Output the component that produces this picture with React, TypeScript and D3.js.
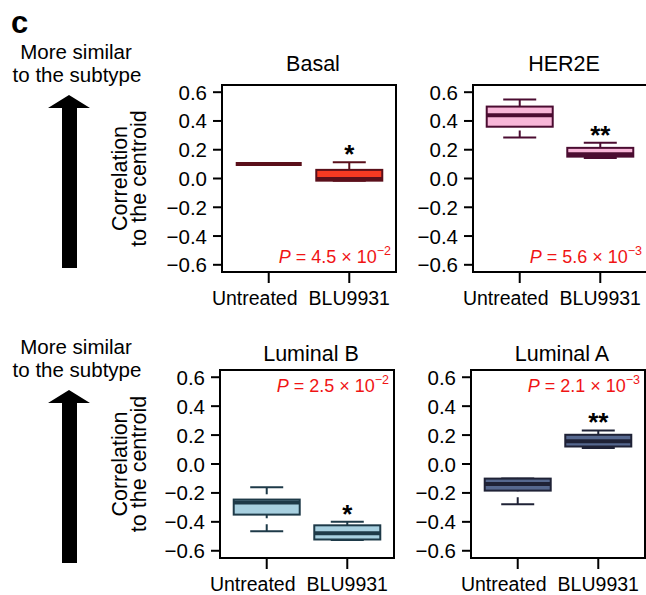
import React from "react";
import * as d3 from "d3";

// one entry per panel
const panelNames = ["Basal", "HER2E", "Luminal B", "Luminal A"];
const groupNames = ["Untreated", "BLU9931"];
// [min, q1, median, q3, max]
const untreatedStats = [
  [0.1, 0.1, 0.1, 0.1, 0.1],
  [0.285, 0.36, 0.44, 0.5, 0.55],
  [-0.465, -0.35, -0.267, -0.246, -0.161],
  [-0.279, -0.184, -0.139, -0.101, -0.101],
];
const bluStats = [
  [-0.015, -0.015, -0.003, 0.06, 0.113],
  [0.143, 0.152, 0.168, 0.213, 0.248],
  [-0.525, -0.522, -0.478, -0.424, -0.4],
  [0.11, 0.121, 0.157, 0.202, 0.232],
];
const pMantissa = ["4.5", "5.6", "2.5", "2.1"];
const pExponent = ["−2", "−3", "−2", "−3"];
const pAtTop = [false, false, true, true];
const stars = ["*", "**", "*", "**"];
const fillColors = ["#f83a22", "#f8b6d8", "#a8d0e0", "#56688f"];
const darkColors = ["#5a0f1a", "#4b0c31", "#1e3a48", "#1f2236"];
const yTicks = [-0.6, -0.4, -0.2, 0.0, 0.2, 0.4, 0.6];

const W = 646;
const H = 595;
const FONT = "'Liberation Sans', Arial, sans-serif";
const panelLeft = [222, 473, 220, 471];
const rowTop = [85, 370];
const rowBottom = [272, 558];
const titleY = [71, 361];
const panelW = 174;
const boxW = 66;
const labelShift = [-14, 0]; // labels were nudged apart in the figure

const fmt = (v: number) => (v < 0 ? "−" : "") + Math.abs(v).toFixed(1);

function Panel({ i }: { i: number }) {
  const row = i < 2 ? 0 : 1;
  const left = panelLeft[i];
  const top = rowTop[row];
  const bottom = rowBottom[row];
  const y = d3.scaleLinear().domain([-0.65, 0.65]).range([bottom, top]);
  const x = d3
    .scalePoint<string>()
    .domain(groupNames)
    .range([left, left + panelW])
    .padding(0.58);
  const stats = [untreatedStats[i], bluStats[i]];
  const dark = darkColors[i];

  return (
    <g>
      <text
        x={left + panelW / 2 + 4}
        y={titleY[row]}
        textAnchor="middle"
        fontSize={21.5}
        fontFamily={FONT}
      >
        {panelNames[i]}
      </text>
      {/* boxes */}
      {groupNames.map((g, k) => {
        const [mn, q1, md, q3, mx] = stats[k];
        const cx = x(g) as number;
        return (
          <g key={g}>
            <line x1={cx} x2={cx} y1={y(mx)} y2={y(q3)} stroke={dark} strokeWidth={2} strokeDasharray="7 6" />
            <line x1={cx} x2={cx} y1={y(mn)} y2={y(q1)} stroke={dark} strokeWidth={2} strokeDasharray="7 6" />
            <line x1={cx - boxW / 4} x2={cx + boxW / 4} y1={y(mx)} y2={y(mx)} stroke={dark} strokeWidth={2} />
            <line x1={cx - boxW / 4} x2={cx + boxW / 4} y1={y(mn)} y2={y(mn)} stroke={dark} strokeWidth={2} />
            <rect
              x={cx - boxW / 2}
              y={y(q3)}
              width={boxW}
              height={y(q1) - y(q3)}
              fill={fillColors[i]}
              stroke={dark}
              strokeWidth={2}
            />
            <line x1={cx - boxW / 2} x2={cx + boxW / 2} y1={y(md)} y2={y(md)} stroke={dark} strokeWidth={4} />
          </g>
        );
      })}
      <text
        x={x(groupNames[1]) as number}
        y={y(bluStats[i][4]) + 1}
        textAnchor="middle"
        fontSize={26}
        fontWeight="bold"
        fontFamily={FONT}
      >
        {stars[i]}
      </text>
      {/* frame */}
      <rect x={left} y={top} width={panelW} height={bottom - top} fill="none" stroke="#000" strokeWidth={2} />
      {/* y axis */}
      {yTicks.map((t) => (
        <g key={t}>
          <line x1={left - 9} x2={left} y1={y(t)} y2={y(t)} stroke="#000" strokeWidth={2} />
          <text x={left - 15} y={y(t) + 7.5} textAnchor="end" fontSize={20.5} fontFamily={FONT}>
            {fmt(t)}
          </text>
        </g>
      ))}
      {/* x axis */}
      {groupNames.map((g, k) => (
        <g key={g}>
          <line x1={x(g) as number} x2={x(g) as number} y1={bottom} y2={bottom + 11} stroke="#000" strokeWidth={2} />
          <text
            x={(x(g) as number) + labelShift[k]}
            y={bottom + 33}
            textAnchor="middle"
            fontSize={19.5}
            fontFamily={FONT}
          >
            {g}
          </text>
        </g>
      ))}
      <text
        x={left + panelW - 5}
        y={pAtTop[i] ? top + 22 : bottom - 9}
        textAnchor="end"
        fontSize={18}
        fontFamily={FONT}
        fill="#f01414"
      >
        <tspan fontStyle="italic">P</tspan>
        <tspan>{" = " + pMantissa[i] + " × 10"}</tspan>
        <tspan fontSize={12.5} dy={-8}>
          {pExponent[i]}
        </tspan>
      </text>
    </g>
  );
}

function SideLabel({ row }: { row: number }) {
  const off = row === 0 ? 0 : 295;
  const mid = (rowTop[row] + rowBottom[row]) / 2;
  const arrow = `M62,${268 + off} L62,${108 + off} L48,${108 + off} L69,${95 + off} L90,${108 + off} L77,${108 + off} L77,${268 + off} Z`;
  return (
    <g fontFamily={FONT}>
      <text x={76} y={59 + off} textAnchor="middle" fontSize={20.5}>
        More similar
      </text>
      <text x={77} y={82 + off} textAnchor="middle" fontSize={20.5}>
        to the subtype
      </text>
      <path d={arrow} fill="#000" />
      <text transform={`translate(127,${mid}) rotate(-90)`} textAnchor="middle" fontSize={21.5}>
        Correlation
      </text>
      <text transform={`translate(146,${mid}) rotate(-90)`} textAnchor="middle" fontSize={21.5}>
        to the centroid
      </text>
    </g>
  );
}

export default function App() {
  return (
    <svg
      width={W}
      height={H}
      style={{ position: "absolute", left: 0, top: 0, background: "#fff" }}
    >
      <text x={11} y={33} fontSize={31} fontWeight="bold" fontFamily={FONT}>
        c
      </text>
      <SideLabel row={0} />
      <SideLabel row={1} />
      {panelNames.map((p, i) => (
        <Panel key={p} i={i} />
      ))}
    </svg>
  );
}
